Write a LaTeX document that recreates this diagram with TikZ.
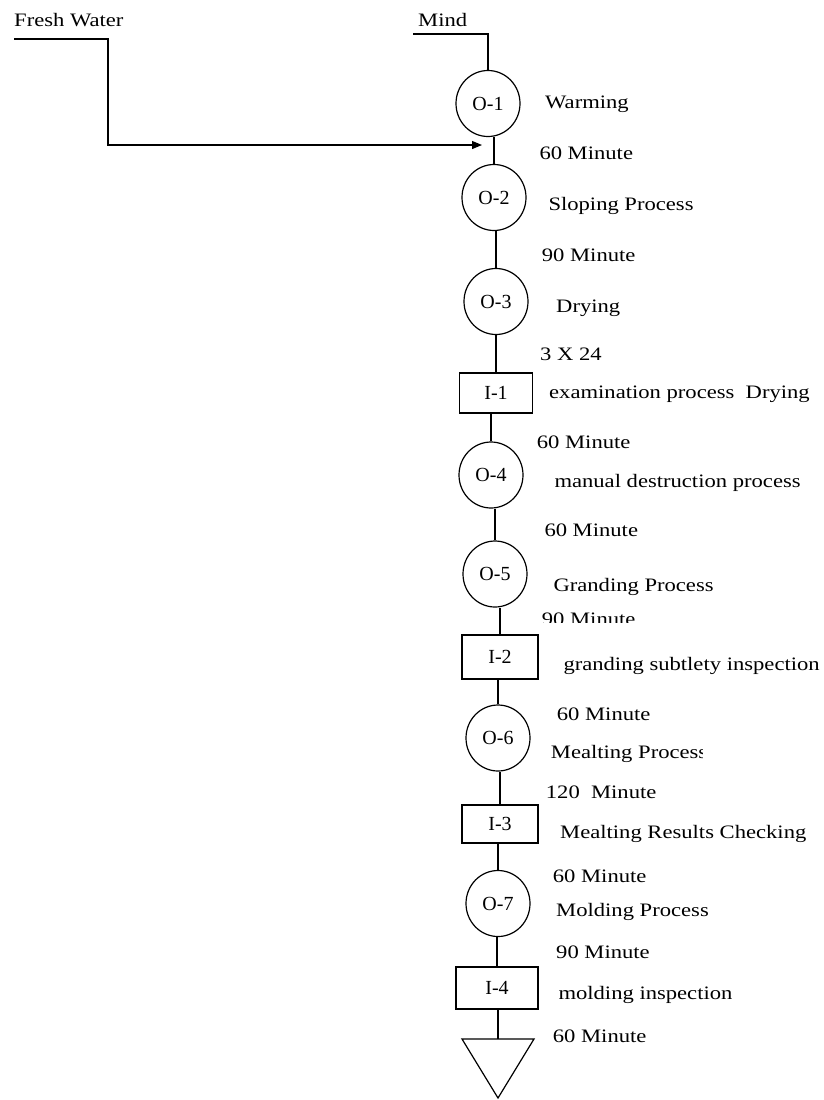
\documentclass[tikz,border=0pt]{standalone}
\usepackage{fontspec}
\setmainfont{Liberation Serif}
\newfontfamily\widefont[FakeStretch=1.19]{Liberation Serif}
\usetikzlibrary{arrows.meta,shapes.geometric}
\tikzset{
  op/.style={draw, ellipse, line width=1.2pt, minimum width=64pt, minimum height=66pt, inner sep=0pt, font=\fontsize{20}{22}\selectfont},
  insp/.style={draw, rectangle, line width=1.2pt, inner sep=0pt, font=\fontsize{20}{22}\selectfont},
  lbl/.style={anchor=base west, inner sep=0pt, font=\widefont\fontsize{19}{23}\selectfont},
  conn/.style={line width=1.2pt},
}
\begin{document}
\begin{tikzpicture}[x=1pt,y=-1pt]
\useasboundingbox (0,0) rectangle (824,1100);
% process nodes
\node[op] (O1) at (488,103.5) {O-1};
\node[op] (O2) at (494,197.5) {O-2};
\node[op] (O3) at (496,301.5) {O-3};
\node[insp, minimum width=73pt, minimum height=40pt] (I1) at (496,393) {I-1};
\node[op] (O4) at (491,475) {O-4};
\node[op] (O5) at (495,574) {O-5};
\node[insp, minimum width=76pt, minimum height=44pt] (I2) at (500,657) {I-2};
\node[op] (O6) at (498,738) {O-6};
\node[insp, minimum width=76pt, minimum height=38pt] (I3) at (500,824) {I-3};
\node[op] (O7) at (498,903.5) {O-7};
\node[insp, minimum width=82pt, minimum height=42pt] (I4) at (497,988) {I-4};
% storage triangle
\coordinate (Ttop) at (498,1039);
\coordinate (TL) at (462,1039);
\coordinate (TR) at (534,1039);
\coordinate (Tbot) at (498,1098);
\draw[conn, line join=miter] (TL) -- (TR) -- (Tbot) -- cycle;
% connectors
\draw[conn] (O2.north) -- (O2.north |- O1.south);
\draw[conn] (O3.north) -- (O3.north |- O2.south);
\draw[conn] (I1.north) -- (I1.north |- O3.south);
\draw[conn] (O4.north) -- (O4.north |- I1.south);
\draw[conn] (O5.north) -- (O5.north |- O4.south);
\draw[conn] (I2.north) -- (I2.north |- O5.south);
\draw[conn] (O6.north) -- (O6.north |- I2.south);
\draw[conn] (I3.north) -- (I3.north |- O6.south);
\draw[conn] (O7.north) -- (O7.north |- I3.south);
\draw[conn] (I4.north) -- (I4.north |- O7.south);
\draw[conn] (Ttop) -- (Ttop |- I4.south);
% inputs
\node[lbl] (fw) at (14,26) {Fresh Water};
\node[lbl] (mind) at (418,26) {Mind};
\coordinate (mindL) at (413,34);
\draw[conn] (mindL) -- (O1.north |- mindL) -- (O1.north);
\coordinate (fwL) at (14,39);
\coordinate (fwC) at (108,39);
\coordinate (fwB) at (108,145);
\coordinate (fwT) at (482,145);
\draw[conn, -{Triangle[length=10pt,width=8pt]}] (fwL) -- (fwC) -- (fwB) -- (fwT);
% labels
\node[lbl] (t1) at (545,108.3) {Warming};
\node[lbl] (m1) at (539.3,159.3) {60 Minute};
\node[lbl] (t2) at (548.3,210) {Sloping Process};
\node[lbl] (m2) at (541.7,261.7) {90 Minute};
\node[lbl] (t3) at (556,312.3) {Drying};
\node[lbl] (m3) at (540,360) {3 X 24};
\node[lbl] (t4) at (549,398.3) {examination process\ \ Drying};
\node[lbl] (m4) at (536.7,448) {60 Minute};
\node[lbl] (t5) at (554.3,487.7) {manual destruction process};
\node[lbl] (m5) at (544.3,536) {60 Minute};
\node[lbl] (t6) at (553.3,591.7) {Granding Process};
\begin{scope}
\clip (530,590) rectangle (700,622);
\node[lbl] (m6) at (541.7,625) {90 Minute};
\end{scope}
\node[lbl] (t7) at (563.3,670) {granding subtlety inspection};
\node[lbl] (m7) at (556.7,720) {60 Minute};
\begin{scope}
\clip (540,730) rectangle (702,770);
\node[lbl] (t8) at (550.7,758.3) {Mealting Process};
\end{scope}
\node[lbl] (m8) at (545.7,798.3) {120\ \ Minute};
\node[lbl] (t9) at (560,838.3) {Mealting Results Checking};
\node[lbl] (m9) at (552.7,882.7) {60 Minute};
\node[lbl] (t10) at (556,916) {Molding Process};
\node[lbl] (m10) at (556,958.3) {90 Minute};
\node[lbl] (t11) at (558.3,999.3) {molding inspection};
\node[lbl] (m11) at (552.7,1042.7) {60 Minute};
\end{tikzpicture}
\end{document}
